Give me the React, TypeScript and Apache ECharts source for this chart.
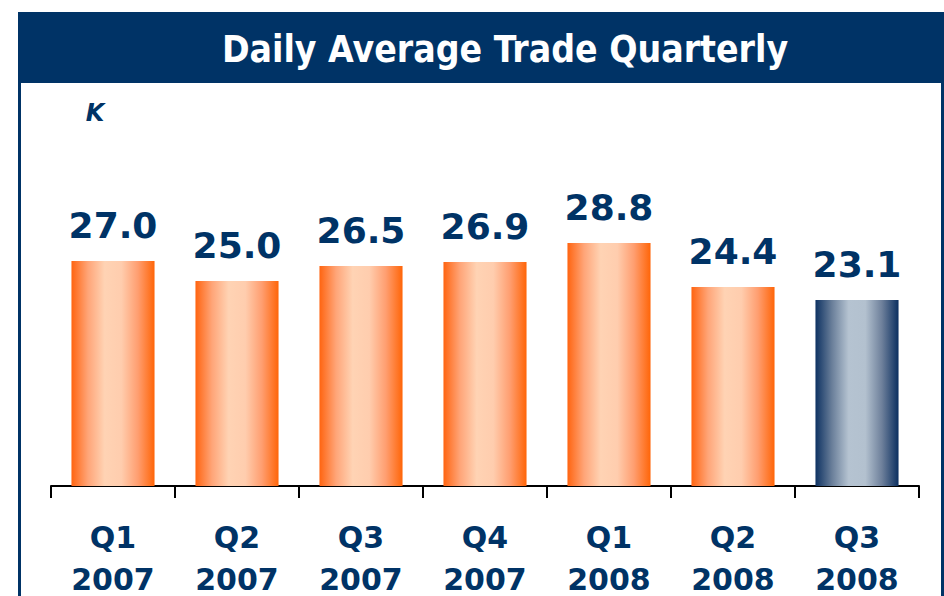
import React, { useEffect, useRef } from "react";
import * as echarts from "echarts";

const quarters = ["Q1", "Q2", "Q3", "Q4", "Q1", "Q2", "Q3"];
const years = ["2007", "2007", "2007", "2007", "2008", "2008", "2008"];
const tradesK = [27.0, 25.0, 26.5, 26.9, 28.8, 24.4, 23.1];
const highlightIndex = 6;
const titleText = "Daily Average Trade Quarterly";
const unitLabel = "K";

const NAVY = "#003366";

const orangeGrad = () =>
  new echarts.graphic.LinearGradient(0, 0, 1, 0, [
    { offset: 0, color: "#FF6410" },
    { offset: 0.2, color: "#FFA578" },
    { offset: 0.4, color: "#FFD3B4" },
    { offset: 0.6, color: "#FFCDAE" },
    { offset: 0.8, color: "#FF9E70" },
    { offset: 1, color: "#FF6508" },
  ]);

const navyGrad = () =>
  new echarts.graphic.LinearGradient(0, 0, 1, 0, [
    { offset: 0, color: "#0E3262" },
    { offset: 0.2, color: "#6A7F9A" },
    { offset: 0.4, color: "#B5C3D1" },
    { offset: 0.6, color: "#B3C1CF" },
    { offset: 0.8, color: "#6E809B" },
    { offset: 1, color: "#0B2F60" },
  ]);

export default function App() {
  const ref = useRef<HTMLDivElement>(null);
  useEffect(() => {
    if (!ref.current) return;
    const chart = echarts.init(ref.current, undefined, { renderer: "svg" });
    const cats = quarters.map((q, i) => q + "\n" + years[i]);
    chart.setOption({
      animation: false,
      backgroundColor: "#ffffff",
      graphic: [
        { type: "rect", shape: { x: 18, y: 12, width: 926, height: 71 }, style: { fill: NAVY } },
        { type: "rect", shape: { x: 18, y: 82, width: 3, height: 520 }, style: { fill: NAVY } },
        { type: "rect", shape: { x: 941, y: 82, width: 3, height: 520 }, style: { fill: NAVY } },
        {
          type: "text",
          x: 505,
          y: 49,
          style: {
            text: titleText,
            fill: "#ffffff",
            font: "bold 37px 'DejaVu Sans Condensed', 'DejaVu Sans', sans-serif",
            align: "center",
            verticalAlign: "middle",
          },
        },
        {
          type: "text",
          x: 95,
          y: 113,
          style: {
            text: unitLabel,
            fill: NAVY,
            font: "italic bold 24px 'DejaVu Sans', sans-serif",
            align: "center",
            verticalAlign: "middle",
          },
        },
      ],
      grid: {
        left: 51,
        right: 25,
        top: 186,
        bottom: 110,
        containLabel: false,
        outerBoundsMode: "none",
      },
      xAxis: {
        type: "category",
        data: cats,
        axisLine: { show: true, lineStyle: { color: "#000", width: 2 } },
        axisTick: { show: true, length: 12, lineStyle: { color: "#000", width: 2 } },
        axisLabel: {
          interval: 0,
          margin: 30,
          color: NAVY,
          fontFamily: "DejaVu Sans",
          fontWeight: "bold",
          fontSize: 30,
          lineHeight: 42,
        },
      },
      yAxis: {
        type: "value",
        min: 4.5,
        max: 34.5,
        show: false,
        splitLine: { show: false },
      },
      series: [
        {
          type: "bar",
          barWidth: "67%",
          data: tradesK.map((v, i) => ({
            value: v,
            itemStyle: { color: i === highlightIndex ? navyGrad() : orangeGrad() },
          })),
          label: {
            show: true,
            position: "top",
            distance: 18,
            formatter: (p: any) => Number(p.value).toFixed(1),
            color: NAVY,
            fontFamily: "DejaVu Sans",
            fontWeight: "bold",
            fontSize: 36,
          },
        },
      ],
    });
    return () => chart.dispose();
  }, []);
  return (
    <div
      ref={ref}
      style={{ position: "fixed", left: 0, top: 0, width: 944, height: 596 }}
    />
  );
}
